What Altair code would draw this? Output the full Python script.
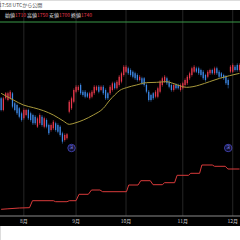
import altair as alt
import pandas as pd

# ---- candle data (trading-day index 0..105) ----
opens = [1540,1470,1540,1530,1540,1570,1510,1500,1480,1450,
         1420,1440,1470,1450,1440,1430,1370,1390,1430,1370,
         1410,1380,1350,1360,1390,1380,1370,1330,1290,1300,
         1460,1480,1520,1580,1590,1620,1580,1580,1570,1540,
         1550,1570,1590,1610,1590,1610,1590,1570,1570,1590,
         1630,1600,1620,1640,1680,1700,1720,1710,1700,1690,
         1680,1650,1660,1660,1620,1580,1560,1570,1550,1550,
         1580,1620,1640,1660,1640,1620,1590,1620,1620,1590,
         1600,1620,1630,1660,1680,1700,1720,1720,1710,1700,
         1680,1670,1690,1710,1690,1720,1700,1690,1680,1670,
         1650,1700,1700,1730,1740,1710]
closes = [1470,1540,1570,1570,1580,1490,1470,1450,1430,1410,
          1470,1470,1420,1410,1390,1390,1420,1440,1380,1420,
          1370,1330,1380,1400,1350,1340,1320,1280,1320,1324,
          1520,1540,1590,1610,1610,1570,1560,1550,1550,1570,
          1580,1610,1610,1580,1610,1570,1540,1540,1610,1630,
          1600,1640,1670,1690,1730,1730,1690,1680,1670,1660,
          1650,1670,1630,1620,1580,1530,1530,1540,1580,1600,
          1640,1660,1670,1630,1610,1590,1620,1600,1600,1620,
          1630,1650,1670,1690,1720,1730,1700,1690,1680,1660,
          1650,1700,1710,1690,1720,1690,1670,1670,1660,1630,
          1620,1730,1740,1710,1710,1740]
highs = [1548,1550,1578,1580,1590,1578,1518,1508,1488,1460,
         1480,1478,1478,1460,1448,1440,1430,1450,1440,1430,
         1420,1388,1390,1410,1400,1390,1378,1340,1330,1332,
         1530,1550,1600,1620,1620,1630,1590,1590,1578,1580,
         1590,1620,1618,1620,1618,1620,1600,1578,1620,1640,
         1640,1650,1680,1700,1740,1740,1730,1720,1708,1700,
         1690,1680,1670,1668,1630,1590,1568,1578,1590,1610,
         1650,1670,1680,1670,1650,1630,1630,1630,1628,1630,
         1640,1660,1680,1700,1730,1740,1730,1730,1718,1710,
         1688,1710,1718,1718,1730,1730,1710,1698,1688,1680,
         1660,1740,1750,1740,1750,1750]
lows = [1462,1462,1532,1522,1532,1480,1462,1440,1420,1400,
        1410,1432,1410,1400,1380,1380,1362,1380,1370,1360,
        1360,1320,1340,1350,1340,1330,1310,1268,1280,1292,
        1450,1470,1510,1570,1580,1560,1550,1540,1542,1532,
        1540,1560,1582,1570,1582,1560,1530,1530,1560,1580,
        1592,1592,1610,1630,1670,1692,1680,1670,1660,1650,
        1640,1642,1620,1610,1570,1520,1520,1530,1540,1540,
        1570,1610,1632,1620,1600,1580,1580,1592,1592,1580,
        1592,1610,1620,1650,1670,1692,1692,1680,1670,1650,
        1640,1660,1680,1682,1680,1680,1660,1660,1650,1620,
        1600,1690,1692,1700,1700,1700]

# ---- moving average (read at sample points) ----
ma_idx = [0, 5.4, 9.8, 14.2, 18.6, 23, 27.4, 30, 32.5, 36.2, 40.6, 45, 47.9,
          50, 52.3, 55.2, 59.6, 64, 68.4, 72.8, 75.7, 79.4, 81.6, 84.5, 87.4,
          91.8, 96.2, 100.6, 105]
ma_val = [1570, 1530, 1500, 1484, 1466, 1440, 1404, 1384, 1392, 1410, 1440, 1480, 1530,
          1560, 1588, 1604, 1620, 1634, 1636, 1640, 1630, 1612, 1606, 1610, 1620,
          1640, 1660, 1676, 1690]

# ---- lower panel step series ----
step_idx = [0, 3, 8, 12.5, 13.8, 23, 24, 29, 30, 33, 34.3, 38.4, 39.8, 43.5, 44.7,
            55.2, 56.2, 60.3, 61.5, 65.7, 66.9, 71, 72, 76.4, 77.5, 82.5, 83.5,
            87.4, 88.4, 93, 94, 98.7, 99.9, 105]
step_val = [167, 172, 180, 183, 253, 253, 243, 243, 253, 253, 317, 317, 360, 360, 343,
            343, 410, 410, 453, 453, 413, 413, 433, 433, 507, 507, 527,
            527, 610, 610, 597, 597, 570, 570]

# ---- axis / events / header ----
month_idx = [10, 33, 55, 80, 102]
month_labels = ["8月", "9月", "10月", "11月", "12月"]
event_idx = [31, 100]
event_price = [1242, 1242]
event_label = ["決", "決"]
header_names = ["始値", "高値", "安値", "終値"]
header_values = ["1710", "1750", "1700", "1740"]
title_text = "17:58 UTCから公開"

FONT = "Noto Sans CJK JP"
RED = "#e8394d"
BLUE = "#3d88e6"

candles = pd.DataFrame({
    "idx": list(range(len(opens))),
    "open": opens, "close": closes, "high": highs, "low": lows,
})
candles["dir"] = ["up" if c >= o else "down" for o, c in zip(opens, closes)]
ma_df = pd.DataFrame({"idx": ma_idx, "ma": ma_val})
step_df = pd.DataFrame({"idx": step_idx, "v": step_val})
month_df = pd.DataFrame({"idx": month_idx, "label": month_labels})
event_df = pd.DataFrame({"idx": event_idx, "price": event_price, "label": event_label})

xscale = alt.Scale(domain=[-0.5, 105.2], nice=False, zero=False)
pscale = alt.Scale(domain=[690, 2130], nice=False, zero=False)
sscale = alt.Scale(domain=[-140, 2260], nice=False, zero=False)
color_scale = alt.Scale(domain=["up", "down"], range=[RED, BLUE])

one = pd.DataFrame({"a": [0]})

bg = alt.Chart(one).mark_rect(color="#000000").encode(
    x=alt.value(0), x2=alt.value(240), y=alt.value(10), y2=alt.value(226))

grid = alt.Chart(month_df).mark_rule(color="#262626", strokeWidth=1).encode(
    x=alt.X("idx:Q", scale=xscale, axis=None),
    y=alt.value(10), y2=alt.value(216))

baseline = alt.Chart(one).mark_rule(color="#8a8a8a", strokeWidth=1).encode(
    x=alt.value(0), x2=alt.value(240), y=alt.value(216))

mlabels = alt.Chart(month_df).mark_text(fontSize=5, color="#d0d0d0", font=FONT,
                                        baseline="middle").encode(
    x=alt.X("idx:Q", scale=xscale, axis=None),
    y=alt.value(221),
    text="label:N")

wick = alt.Chart(candles).mark_rule(strokeWidth=0.5).encode(
    x=alt.X("idx:Q", scale=xscale, axis=None),
    y=alt.Y("low:Q", scale=pscale, axis=None),
    y2="high:Q",
    color=alt.Color("dir:N", scale=color_scale, legend=None))

body = alt.Chart(candles).mark_rule(strokeWidth=1.25).encode(
    x=alt.X("idx:Q", scale=xscale, axis=None),
    y=alt.Y("open:Q", scale=pscale, axis=None),
    y2="close:Q",
    color=alt.Color("dir:N", scale=color_scale, legend=None))

ma = alt.Chart(ma_df).mark_line(color="#a99a3c", strokeWidth=1, interpolate="monotone").encode(
    x=alt.X("idx:Q", scale=xscale, axis=None),
    y=alt.Y("ma:Q", scale=pscale, axis=None))

ev_c = alt.Chart(event_df).mark_point(shape="circle", size=55, filled=True,
                                      fill="#14143a", stroke="#5a5aee", strokeWidth=1).encode(
    x=alt.X("idx:Q", scale=xscale, axis=None),
    y=alt.Y("price:Q", scale=pscale, axis=None))
ev_t = alt.Chart(event_df).mark_text(fontSize=4, color="#8a8aff", font=FONT).encode(
    x=alt.X("idx:Q", scale=xscale, axis=None),
    y=alt.Y("price:Q", scale=pscale, axis=None),
    text="label:N")

step = alt.Chart(step_df).mark_line(color="#d83a3a", strokeWidth=1).encode(
    x=alt.X("idx:Q", scale=xscale, axis=None),
    y=alt.Y("v:Q", scale=sscale, axis=None))

green = alt.Chart(one).mark_rule(color="#3a9a48", strokeWidth=1).encode(
    x=alt.value(0), x2=alt.value(240), y=alt.value(22))

texts = []
title = alt.Chart(one).mark_text(text=title_text, fontSize=5, color="#444444",
                                 align="left", baseline="middle", font=FONT).encode(
    x=alt.value(-1), y=alt.value(5))
texts.append(title)
name_x = [5, 27, 49, 71]
for nx, n, v in zip(name_x, header_names, header_values):
    texts.append(alt.Chart(one).mark_text(text=n, fontSize=5, color="#e0e0e0",
                                          align="left", baseline="middle", font=FONT).encode(
        x=alt.value(nx), y=alt.value(15)))
    texts.append(alt.Chart(one).mark_text(text=v, fontSize=5, color=RED,
                                          align="left", baseline="middle", font=FONT).encode(
        x=alt.value(nx + 10), y=alt.value(15)))

chart = alt.layer(bg, grid, baseline, mlabels, wick, body, ma, step, ev_c, ev_t, green,
                  *texts).resolve_scale(
    y="independent").properties(
    width=240, height=240, padding=0,
    autosize=alt.AutoSizeParams(type="none")).configure_view(stroke=None).configure(
    background="#ffffff")

chart.save("out.html", embed_options={"renderer": "svg", "actions": False})
